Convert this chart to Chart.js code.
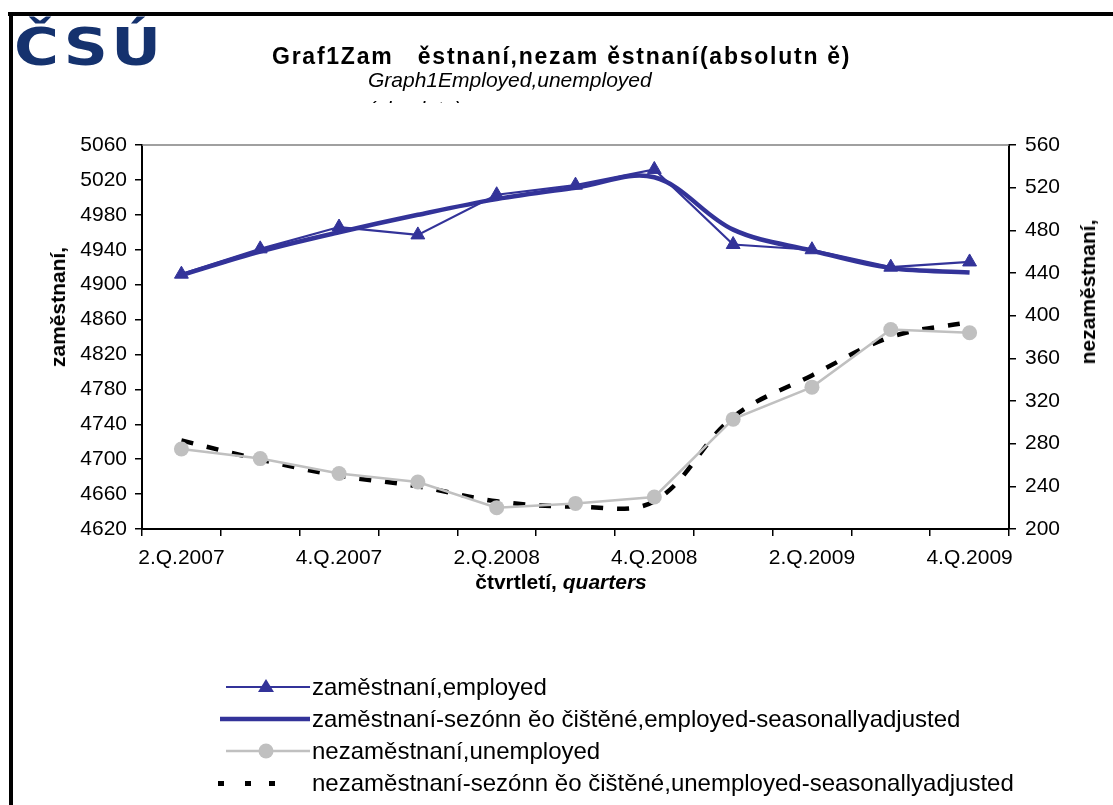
<!DOCTYPE html>
<html>
<head>
<meta charset="utf-8">
<script src="https://cdn.jsdelivr.net/npm/chart.js@4.4.1/dist/chart.umd.min.js"></script>
<style>
  html, body { margin: 0; padding: 0; background: #fff; }
  body { width: 1113px; height: 805px; overflow: hidden; position: relative;
         font-family: "Liberation Sans", Arial, sans-serif; color: #000; }
  #frameTop { position: absolute; left: 8px; top: 12px; width: 1105px; height: 4px; background: #000; }
  #frameLeft { position: absolute; left: 9px; top: 12px; width: 4px; height: 793px; background: #000; }
  #logo { position: absolute; left: 14px; top: 18px; font-family: "DejaVu Sans", sans-serif; font-weight: bold;
          font-size: 51px; line-height: 60px; color: #15326e; letter-spacing: 3px;
          transform: scaleX(1.2); transform-origin: left top; }
  #title { position: absolute; left: 272px; top: 43px; font-weight: bold; font-size: 23px; letter-spacing: 1.75px; white-space: pre; }
  #sub1 { position: absolute; left: 368px; top: 68px; font-style: italic; font-size: 21px; white-space: pre; }
  #sub2 { position: absolute; left: 368px; top: 98px; height: 5px; overflow: hidden; font-style: italic; font-size: 21px; line-height: 21px; white-space: pre; }
  #wrap { position: absolute; left: 0; top: 0; width: 1113px; height: 805px; }
  .ytitle { position: absolute; font-weight: bold; font-size: 21px; white-space: nowrap;
            transform: translate(-50%, -50%) rotate(-90deg); }
  #xtitle { position: absolute; top: 570px; left: 561px; transform: translateX(-50%); font-weight: bold; font-size: 21px; white-space: nowrap; }
  .lg { position: absolute; left: 0; height: 30px; }
  .lg svg { position: absolute; left: 212px; top: 0; }
  .lg span { position: absolute; left: 312px; top: 0; font-size: 24px; line-height: 30px; white-space: pre; }
</style>
</head>
<body>
<div id="wrap"><canvas id="c" width="1113" height="805"></canvas></div>
<div id="frameTop"></div>
<div id="frameLeft"></div>
<div id="logo">ČSÚ</div>
<div id="title">Graf1Zam   ěstnaní,nezam ěstnaní(absolutn ě)</div>
<div id="sub1">Graph1Employed,unemployed</div>
<div id="sub2">(absolute)</div>
<div class="ytitle" style="left:58px; top:307px;">zaměstnaní,</div>
<div class="ytitle" style="left:1088px; top:292px;">nezaměstnaní,</div>
<div id="xtitle">čtvrtletí, <i>quarters</i></div>
<div id="legend"></div>
<script>
// ---- data ----
const categories = ["2.Q.2007","3.Q.2007","4.Q.2007","1.Q.2008","2.Q.2008","3.Q.2008","4.Q.2008","1.Q.2009","2.Q.2009","3.Q.2009","4.Q.2009"];
const employed     = [4912, 4941, 4966, 4957, 5003, 5014, 5032, 4946, 4940, 4920, 4926];
const employedSA   = [4911, 4938, 4960, 4980, 4998, 5011, 5023, 4963, 4939, 4919, 4914];
const unemployed   = [275, 266, 252, 244, 220, 224, 230, 303, 333, 387, 384];
const unemployedSA = [283, 265, 250, 240, 226, 221, 226, 305, 344, 380, 394];
const seriesNames = [
  "zaměstnaní,employed",
  "zaměstnaní-sezónn ěo čištěné,employed-seasonallyadjusted",
  "nezaměstnaní,unemployed",
  "nezaměstnaní-sezónn ěo čištěné,unemployed-seasonallyadjusted"
];
const leftTicks  = { min: 4620, max: 5060, step: 40 };
const rightTicks = { min: 200, max: 560, step: 40 };

const BLUE = '#333399', GRAY = '#c0c0c0';
const FONT = '"Liberation Sans", Arial, sans-serif';

const topLine = {
  id: 'topLine',
  afterDraw(chart) {
    const a = chart.chartArea, ctx = chart.ctx;
    ctx.save();
    ctx.strokeStyle = '#808080';
    ctx.lineWidth = 1.5;
    ctx.beginPath();
    ctx.moveTo(a.left, a.top);
    ctx.lineTo(a.right, a.top);
    ctx.stroke();
    ctx.restore();
  }
};

new Chart(document.getElementById('c'), {
  type: 'line',
  data: {
    labels: categories,
    datasets: [
      { label: seriesNames[0], data: employed, yAxisID: 'y', borderColor: BLUE, backgroundColor: BLUE,
        borderWidth: 2.2, tension: 0, pointStyle: 'triangle', pointRadius: 8, pointBorderWidth: 1 },
      { label: seriesNames[1], data: employedSA, yAxisID: 'y', borderColor: BLUE, backgroundColor: BLUE,
        borderWidth: 4.5, tension: 0.35, pointRadius: 0 },
      { label: seriesNames[2], data: unemployed, yAxisID: 'y1', borderColor: GRAY, backgroundColor: GRAY,
        borderWidth: 2.5, tension: 0, pointStyle: 'circle', pointRadius: 7.5, pointBorderWidth: 0 },
      { label: seriesNames[3], data: unemployedSA, yAxisID: 'y1', borderColor: '#000', backgroundColor: '#000',
        borderWidth: 4.5, borderDash: [12, 14], borderCapStyle: 'butt', tension: 0.35, pointRadius: 0 }
    ]
  },
  options: {
    responsive: false,
    animation: false,
    events: [],
    layout: { padding: { top: 145, left: 0, right: 0, bottom: 0 } },
    plugins: { legend: { display: false }, tooltip: { enabled: false }, title: { display: false } },
    scales: {
      x: {
        type: 'category',
        offset: true,
        grid: { offset: true, drawOnChartArea: false, tickLength: 7, color: '#000', lineWidth: 1.5 },
        border: { color: '#000', width: 2 },
        ticks: { autoSkip: false, maxRotation: 0, color: '#000', padding: 10,
                 font: { family: FONT, size: 21 },
                 callback: (v, i) => (i % 2 === 0 ? categories[i] : '') },
        afterFit: s => { s.height = 276; }
      },
      y: {
        position: 'left',
        min: leftTicks.min, max: leftTicks.max,
        grid: { drawOnChartArea: false, tickLength: 7, color: '#000', lineWidth: 1.5 },
        border: { color: '#000', width: 2 },
        ticks: { stepSize: leftTicks.step, color: '#000', padding: 8, font: { family: FONT, size: 21 },
                 callback: v => String(v) },
        afterFit: s => { s.width = 142; }
      },
      y1: {
        position: 'right',
        min: rightTicks.min, max: rightTicks.max,
        grid: { drawOnChartArea: false, tickLength: 7, color: '#000', lineWidth: 1.5 },
        border: { color: '#000', width: 2 },
        ticks: { stepSize: rightTicks.step, color: '#000', padding: 9, font: { family: FONT, size: 21 },
                 callback: v => String(v) },
        afterFit: s => { s.width = 104; }
      }
    }
  },
  plugins: [topLine]
});

// ---- legend (HTML) ----
const rowsY = [672, 704, 736, 768];
const samples = [
  `<svg width="100" height="30"><line x1="14" y1="15" x2="98" y2="15" stroke="${BLUE}" stroke-width="2"/><polygon points="54,7 62,20 46,20" fill="${BLUE}"/></svg>`,
  `<svg width="100" height="30"><line x1="8" y1="15" x2="98" y2="15" stroke="${BLUE}" stroke-width="4.5"/></svg>`,
  `<svg width="100" height="30"><line x1="14" y1="15" x2="98" y2="15" stroke="${GRAY}" stroke-width="2.5"/><circle cx="54" cy="15" r="7.5" fill="${GRAY}"/></svg>`,
  `<svg width="100" height="30"><rect x="6" y="13" width="6" height="5" fill="#000"/><rect x="33" y="13" width="6" height="5" fill="#000"/><rect x="57" y="13" width="6" height="5" fill="#000"/></svg>`
];
const lg = document.getElementById('legend');
seriesNames.forEach((n, i) => {
  const d = document.createElement('div');
  d.className = 'lg';
  d.style.top = rowsY[i] + 'px';
  d.innerHTML = samples[i] + '<span></span>';
  d.querySelector('span').textContent = n;
  lg.appendChild(d);
});
</script>
</body>
</html>
